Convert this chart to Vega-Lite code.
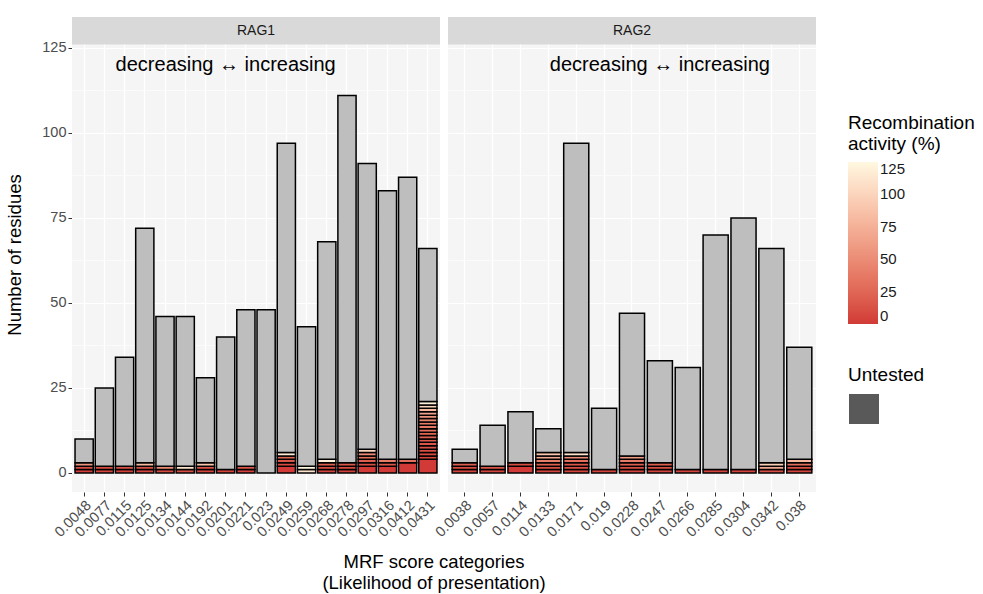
{
  "$schema": "https://vega.github.io/schema/vega-lite/v6.json",
  "padding": {"left": 5, "top": 17, "right": 5, "bottom": 5},
  "background": "white",
  "bounds": "flush",
  "config": {
    "font": "Liberation Sans",
    "view": {"fill": "#f5f5f5", "stroke": null},
    "axis": {"domain": false, "gridColor": "white", "gridWidth": 1.2, "tickColor": "#333333", "tickSize": 4, "labelColor": "#4d4d4d", "labelFontSize": 14.5, "titleFontSize": 18.5, "titleFontWeight": "normal", "titleColor": "black", "labelPadding": 2},
    "legend": {"titleFontSize": 19, "titleFontWeight": "normal", "titleColor": "black", "labelFontSize": 15, "labelColor": "#1a1a1a", "titlePadding": 8},
    "header": {"titleFontSize": 18.5, "titleFontWeight": "normal", "titleColor": "black"}
  },
  "data": {"values": [
    {"kind":"bar","gene":"RAG1","mrf":"0.0048","n":1,"activity":2,"status":"Tested"},
    {"kind":"bar","gene":"RAG1","mrf":"0.0048","n":1,"activity":8,"status":"Tested"},
    {"kind":"bar","gene":"RAG1","mrf":"0.0048","n":1,"activity":55,"status":"Tested"},
    {"kind":"bar","gene":"RAG1","mrf":"0.0048","n":7,"activity":null,"status":"Untested"},
    {"kind":"bar","gene":"RAG1","mrf":"0.0077","n":1,"activity":5,"status":"Tested"},
    {"kind":"bar","gene":"RAG1","mrf":"0.0077","n":1,"activity":10,"status":"Tested"},
    {"kind":"bar","gene":"RAG1","mrf":"0.0077","n":23,"activity":null,"status":"Untested"},
    {"kind":"bar","gene":"RAG1","mrf":"0.0115","n":1,"activity":3,"status":"Tested"},
    {"kind":"bar","gene":"RAG1","mrf":"0.0115","n":1,"activity":12,"status":"Tested"},
    {"kind":"bar","gene":"RAG1","mrf":"0.0115","n":32,"activity":null,"status":"Untested"},
    {"kind":"bar","gene":"RAG1","mrf":"0.0125","n":1,"activity":5,"status":"Tested"},
    {"kind":"bar","gene":"RAG1","mrf":"0.0125","n":1,"activity":10,"status":"Tested"},
    {"kind":"bar","gene":"RAG1","mrf":"0.0125","n":1,"activity":80,"status":"Tested"},
    {"kind":"bar","gene":"RAG1","mrf":"0.0125","n":69,"activity":null,"status":"Untested"},
    {"kind":"bar","gene":"RAG1","mrf":"0.0134","n":1,"activity":8,"status":"Tested"},
    {"kind":"bar","gene":"RAG1","mrf":"0.0134","n":1,"activity":50,"status":"Tested"},
    {"kind":"bar","gene":"RAG1","mrf":"0.0134","n":44,"activity":null,"status":"Untested"},
    {"kind":"bar","gene":"RAG1","mrf":"0.0144","n":1,"activity":10,"status":"Tested"},
    {"kind":"bar","gene":"RAG1","mrf":"0.0144","n":1,"activity":110,"status":"Tested"},
    {"kind":"bar","gene":"RAG1","mrf":"0.0144","n":44,"activity":null,"status":"Untested"},
    {"kind":"bar","gene":"RAG1","mrf":"0.0192","n":1,"activity":5,"status":"Tested"},
    {"kind":"bar","gene":"RAG1","mrf":"0.0192","n":1,"activity":12,"status":"Tested"},
    {"kind":"bar","gene":"RAG1","mrf":"0.0192","n":1,"activity":90,"status":"Tested"},
    {"kind":"bar","gene":"RAG1","mrf":"0.0192","n":25,"activity":null,"status":"Untested"},
    {"kind":"bar","gene":"RAG1","mrf":"0.0201","n":1,"activity":5,"status":"Tested"},
    {"kind":"bar","gene":"RAG1","mrf":"0.0201","n":39,"activity":null,"status":"Untested"},
    {"kind":"bar","gene":"RAG1","mrf":"0.0221","n":1,"activity":4,"status":"Tested"},
    {"kind":"bar","gene":"RAG1","mrf":"0.0221","n":1,"activity":15,"status":"Tested"},
    {"kind":"bar","gene":"RAG1","mrf":"0.0221","n":46,"activity":null,"status":"Untested"},
    {"kind":"bar","gene":"RAG1","mrf":"0.023","n":48,"activity":null,"status":"Untested"},
    {"kind":"bar","gene":"RAG1","mrf":"0.0249","n":2,"activity":0,"status":"Tested"},
    {"kind":"bar","gene":"RAG1","mrf":"0.0249","n":1,"activity":8,"status":"Tested"},
    {"kind":"bar","gene":"RAG1","mrf":"0.0249","n":1,"activity":15,"status":"Tested"},
    {"kind":"bar","gene":"RAG1","mrf":"0.0249","n":1,"activity":25,"status":"Tested"},
    {"kind":"bar","gene":"RAG1","mrf":"0.0249","n":1,"activity":115,"status":"Tested"},
    {"kind":"bar","gene":"RAG1","mrf":"0.0249","n":91,"activity":null,"status":"Untested"},
    {"kind":"bar","gene":"RAG1","mrf":"0.0259","n":1,"activity":110,"status":"Tested"},
    {"kind":"bar","gene":"RAG1","mrf":"0.0259","n":1,"activity":125,"status":"Tested"},
    {"kind":"bar","gene":"RAG1","mrf":"0.0259","n":41,"activity":null,"status":"Untested"},
    {"kind":"bar","gene":"RAG1","mrf":"0.0268","n":1,"activity":5,"status":"Tested"},
    {"kind":"bar","gene":"RAG1","mrf":"0.0268","n":1,"activity":10,"status":"Tested"},
    {"kind":"bar","gene":"RAG1","mrf":"0.0268","n":1,"activity":20,"status":"Tested"},
    {"kind":"bar","gene":"RAG1","mrf":"0.0268","n":1,"activity":120,"status":"Tested"},
    {"kind":"bar","gene":"RAG1","mrf":"0.0268","n":64,"activity":null,"status":"Untested"},
    {"kind":"bar","gene":"RAG1","mrf":"0.0278","n":1,"activity":3,"status":"Tested"},
    {"kind":"bar","gene":"RAG1","mrf":"0.0278","n":1,"activity":8,"status":"Tested"},
    {"kind":"bar","gene":"RAG1","mrf":"0.0278","n":1,"activity":15,"status":"Tested"},
    {"kind":"bar","gene":"RAG1","mrf":"0.0278","n":108,"activity":null,"status":"Untested"},
    {"kind":"bar","gene":"RAG1","mrf":"0.0297","n":2,"activity":0,"status":"Tested"},
    {"kind":"bar","gene":"RAG1","mrf":"0.0297","n":1,"activity":10,"status":"Tested"},
    {"kind":"bar","gene":"RAG1","mrf":"0.0297","n":1,"activity":20,"status":"Tested"},
    {"kind":"bar","gene":"RAG1","mrf":"0.0297","n":1,"activity":30,"status":"Tested"},
    {"kind":"bar","gene":"RAG1","mrf":"0.0297","n":1,"activity":50,"status":"Tested"},
    {"kind":"bar","gene":"RAG1","mrf":"0.0297","n":1,"activity":100,"status":"Tested"},
    {"kind":"bar","gene":"RAG1","mrf":"0.0297","n":84,"activity":null,"status":"Untested"},
    {"kind":"bar","gene":"RAG1","mrf":"0.0316","n":2,"activity":0,"status":"Tested"},
    {"kind":"bar","gene":"RAG1","mrf":"0.0316","n":1,"activity":15,"status":"Tested"},
    {"kind":"bar","gene":"RAG1","mrf":"0.0316","n":1,"activity":40,"status":"Tested"},
    {"kind":"bar","gene":"RAG1","mrf":"0.0316","n":79,"activity":null,"status":"Untested"},
    {"kind":"bar","gene":"RAG1","mrf":"0.0412","n":3,"activity":0,"status":"Tested"},
    {"kind":"bar","gene":"RAG1","mrf":"0.0412","n":1,"activity":30,"status":"Tested"},
    {"kind":"bar","gene":"RAG1","mrf":"0.0412","n":83,"activity":null,"status":"Untested"},
    {"kind":"bar","gene":"RAG1","mrf":"0.0431","n":4,"activity":0,"status":"Tested"},
    {"kind":"bar","gene":"RAG1","mrf":"0.0431","n":1,"activity":5,"status":"Tested"},
    {"kind":"bar","gene":"RAG1","mrf":"0.0431","n":1,"activity":8,"status":"Tested"},
    {"kind":"bar","gene":"RAG1","mrf":"0.0431","n":1,"activity":10,"status":"Tested"},
    {"kind":"bar","gene":"RAG1","mrf":"0.0431","n":1,"activity":12,"status":"Tested"},
    {"kind":"bar","gene":"RAG1","mrf":"0.0431","n":1,"activity":15,"status":"Tested"},
    {"kind":"bar","gene":"RAG1","mrf":"0.0431","n":1,"activity":18,"status":"Tested"},
    {"kind":"bar","gene":"RAG1","mrf":"0.0431","n":1,"activity":20,"status":"Tested"},
    {"kind":"bar","gene":"RAG1","mrf":"0.0431","n":1,"activity":25,"status":"Tested"},
    {"kind":"bar","gene":"RAG1","mrf":"0.0431","n":1,"activity":30,"status":"Tested"},
    {"kind":"bar","gene":"RAG1","mrf":"0.0431","n":1,"activity":35,"status":"Tested"},
    {"kind":"bar","gene":"RAG1","mrf":"0.0431","n":1,"activity":40,"status":"Tested"},
    {"kind":"bar","gene":"RAG1","mrf":"0.0431","n":1,"activity":45,"status":"Tested"},
    {"kind":"bar","gene":"RAG1","mrf":"0.0431","n":1,"activity":55,"status":"Tested"},
    {"kind":"bar","gene":"RAG1","mrf":"0.0431","n":1,"activity":65,"status":"Tested"},
    {"kind":"bar","gene":"RAG1","mrf":"0.0431","n":1,"activity":80,"status":"Tested"},
    {"kind":"bar","gene":"RAG1","mrf":"0.0431","n":1,"activity":100,"status":"Tested"},
    {"kind":"bar","gene":"RAG1","mrf":"0.0431","n":1,"activity":120,"status":"Tested"},
    {"kind":"bar","gene":"RAG1","mrf":"0.0431","n":45,"activity":null,"status":"Untested"},
    {"kind":"bar","gene":"RAG2","mrf":"0.0038","n":1,"activity":5,"status":"Tested"},
    {"kind":"bar","gene":"RAG2","mrf":"0.0038","n":1,"activity":10,"status":"Tested"},
    {"kind":"bar","gene":"RAG2","mrf":"0.0038","n":1,"activity":20,"status":"Tested"},
    {"kind":"bar","gene":"RAG2","mrf":"0.0038","n":4,"activity":null,"status":"Untested"},
    {"kind":"bar","gene":"RAG2","mrf":"0.0057","n":1,"activity":5,"status":"Tested"},
    {"kind":"bar","gene":"RAG2","mrf":"0.0057","n":1,"activity":15,"status":"Tested"},
    {"kind":"bar","gene":"RAG2","mrf":"0.0057","n":12,"activity":null,"status":"Untested"},
    {"kind":"bar","gene":"RAG2","mrf":"0.0114","n":2,"activity":0,"status":"Tested"},
    {"kind":"bar","gene":"RAG2","mrf":"0.0114","n":1,"activity":10,"status":"Tested"},
    {"kind":"bar","gene":"RAG2","mrf":"0.0114","n":15,"activity":null,"status":"Untested"},
    {"kind":"bar","gene":"RAG2","mrf":"0.0133","n":1,"activity":5,"status":"Tested"},
    {"kind":"bar","gene":"RAG2","mrf":"0.0133","n":1,"activity":10,"status":"Tested"},
    {"kind":"bar","gene":"RAG2","mrf":"0.0133","n":1,"activity":20,"status":"Tested"},
    {"kind":"bar","gene":"RAG2","mrf":"0.0133","n":1,"activity":40,"status":"Tested"},
    {"kind":"bar","gene":"RAG2","mrf":"0.0133","n":1,"activity":70,"status":"Tested"},
    {"kind":"bar","gene":"RAG2","mrf":"0.0133","n":1,"activity":90,"status":"Tested"},
    {"kind":"bar","gene":"RAG2","mrf":"0.0133","n":7,"activity":null,"status":"Untested"},
    {"kind":"bar","gene":"RAG2","mrf":"0.0171","n":1,"activity":5,"status":"Tested"},
    {"kind":"bar","gene":"RAG2","mrf":"0.0171","n":1,"activity":10,"status":"Tested"},
    {"kind":"bar","gene":"RAG2","mrf":"0.0171","n":1,"activity":15,"status":"Tested"},
    {"kind":"bar","gene":"RAG2","mrf":"0.0171","n":1,"activity":30,"status":"Tested"},
    {"kind":"bar","gene":"RAG2","mrf":"0.0171","n":1,"activity":50,"status":"Tested"},
    {"kind":"bar","gene":"RAG2","mrf":"0.0171","n":1,"activity":110,"status":"Tested"},
    {"kind":"bar","gene":"RAG2","mrf":"0.0171","n":91,"activity":null,"status":"Untested"},
    {"kind":"bar","gene":"RAG2","mrf":"0.019","n":1,"activity":5,"status":"Tested"},
    {"kind":"bar","gene":"RAG2","mrf":"0.019","n":18,"activity":null,"status":"Untested"},
    {"kind":"bar","gene":"RAG2","mrf":"0.0228","n":1,"activity":5,"status":"Tested"},
    {"kind":"bar","gene":"RAG2","mrf":"0.0228","n":1,"activity":10,"status":"Tested"},
    {"kind":"bar","gene":"RAG2","mrf":"0.0228","n":1,"activity":20,"status":"Tested"},
    {"kind":"bar","gene":"RAG2","mrf":"0.0228","n":1,"activity":40,"status":"Tested"},
    {"kind":"bar","gene":"RAG2","mrf":"0.0228","n":1,"activity":60,"status":"Tested"},
    {"kind":"bar","gene":"RAG2","mrf":"0.0228","n":42,"activity":null,"status":"Untested"},
    {"kind":"bar","gene":"RAG2","mrf":"0.0247","n":1,"activity":5,"status":"Tested"},
    {"kind":"bar","gene":"RAG2","mrf":"0.0247","n":1,"activity":10,"status":"Tested"},
    {"kind":"bar","gene":"RAG2","mrf":"0.0247","n":1,"activity":20,"status":"Tested"},
    {"kind":"bar","gene":"RAG2","mrf":"0.0247","n":30,"activity":null,"status":"Untested"},
    {"kind":"bar","gene":"RAG2","mrf":"0.0266","n":1,"activity":5,"status":"Tested"},
    {"kind":"bar","gene":"RAG2","mrf":"0.0266","n":30,"activity":null,"status":"Untested"},
    {"kind":"bar","gene":"RAG2","mrf":"0.0285","n":1,"activity":5,"status":"Tested"},
    {"kind":"bar","gene":"RAG2","mrf":"0.0285","n":69,"activity":null,"status":"Untested"},
    {"kind":"bar","gene":"RAG2","mrf":"0.0304","n":1,"activity":5,"status":"Tested"},
    {"kind":"bar","gene":"RAG2","mrf":"0.0304","n":74,"activity":null,"status":"Untested"},
    {"kind":"bar","gene":"RAG2","mrf":"0.0342","n":1,"activity":10,"status":"Tested"},
    {"kind":"bar","gene":"RAG2","mrf":"0.0342","n":1,"activity":70,"status":"Tested"},
    {"kind":"bar","gene":"RAG2","mrf":"0.0342","n":1,"activity":95,"status":"Tested"},
    {"kind":"bar","gene":"RAG2","mrf":"0.0342","n":63,"activity":null,"status":"Untested"},
    {"kind":"bar","gene":"RAG2","mrf":"0.038","n":1,"activity":5,"status":"Tested"},
    {"kind":"bar","gene":"RAG2","mrf":"0.038","n":1,"activity":10,"status":"Tested"},
    {"kind":"bar","gene":"RAG2","mrf":"0.038","n":1,"activity":30,"status":"Tested"},
    {"kind":"bar","gene":"RAG2","mrf":"0.038","n":1,"activity":80,"status":"Tested"},
    {"kind":"bar","gene":"RAG2","mrf":"0.038","n":33,"activity":null,"status":"Untested"},
    {"kind":"strip","gene":"RAG1"},
    {"kind":"strip","gene":"RAG2"},
    {"kind":"note","gene":"RAG1","mrf":"0.0201","label":"decreasing ↔ increasing"},
    {"kind":"note","gene":"RAG2","mrf":"0.0247","label":"decreasing ↔ increasing"}
  ]},
  "facet": {"column": {"field": "gene", "type": "nominal", "title": ["MRF score categories", "(Likelihood of presentation)"], "header": {"labels": false, "titleOrient": "bottom", "titlePadding": 51}}},
  "spacing": 8,
  "resolve": {"scale": {"x": "independent"}},
  "spec": {
    "width": 368,
    "height": 475,
    "layer": [
      {
        "transform": [{"filter": "datum.kind === 'bar'"}],
        "mark": {"type": "bar", "stroke": "black", "strokeWidth": 1.5, "invalid": null},
        "encoding": {
          "x": {"field": "mrf", "type": "nominal", "scale": {"paddingInner": 0.1, "paddingOuter": 0.15}, "axis": {"title": null, "labelAngle": -45, "grid": true}},
          "y": {"field": "n", "type": "quantitative", "stack": "zero", "scale": {"domain": [-5.6, 134.1], "nice": false, "zero": false},
            "axis": {"title": "Number of residues", "values": [0, 12.5, 25, 37.5, 50, 62.5, 75, 87.5, 100, 112.5, 125], "titlePadding": 17,
              "labelExpr": "datum.value % 25 === 0 ? datum.label : ''",
              "tickOpacity": {"condition": {"test": "datum.value % 25 !== 0", "value": 0}, "value": 1},
              "gridWidth": {"condition": {"test": "datum.value % 25 !== 0", "value": 0.6}, "value": 1.2}}},
          "color": {
            "condition": [{"test": "false", "value": "#595959"}, {"test": "datum.status === 'Untested'", "value": "#bebebe"}],
            "field": "activity", "type": "quantitative",
            "scale": {"domain": [0, 125], "range": ["#d13a36", "#fff8e1"], "interpolate": "lab"},
            "legend": {"title": ["Recombination", "activity (%)"], "values": [0, 25, 50, 75, 100, 125], "gradientLength": 162, "gradientThickness": 30, "orient": "none", "direction": "vertical", "legendX": 776, "legendY": 97}
          },
          "opacity": {
            "field": "status", "type": "nominal",
            "scale": {"domain": ["Untested", "Tested"], "range": [1, 1]},
            "legend": {"title": "Untested", "values": ["Untested"], "labelExpr": "''", "symbolType": "square", "symbolSize": 900, "symbolFillColor": "#595959", "symbolStrokeColor": "#bdbdbd", "symbolStrokeWidth": 1.5, "symbolOpacity": 1, "orient": "none", "legendX": 776, "legendY": 349}
          },
          "order": {"field": "status", "type": "nominal", "sort": "ascending"}
        }
      },
      {
        "transform": [{"filter": "datum.kind === 'strip'"}],
        "mark": {"type": "rect", "fill": "#d9d9d9"},
        "encoding": {
          "y": {"datum": 126, "type": "quantitative", "axis": {"title": "Number of residues"}},
          "y2": {"datum": 134.1}
        }
      },
      {
        "transform": [{"filter": "datum.kind === 'strip'"}],
        "mark": {"type": "text", "fontSize": 14, "color": "#1a1a1a"},
        "encoding": {
          "y": {"datum": 130, "type": "quantitative", "axis": {"title": "Number of residues"}},
          "text": {"field": "gene"}
        }
      },
      {
        "transform": [{"filter": "datum.kind === 'note'"}],
        "mark": {"type": "text", "fontSize": 20, "color": "black"},
        "encoding": {
          "x": {"field": "mrf", "type": "nominal"},
          "y": {"datum": 120, "type": "quantitative", "axis": {"title": "Number of residues"}},
          "text": {"field": "label"}
        }
      }
    ]
  }
}
